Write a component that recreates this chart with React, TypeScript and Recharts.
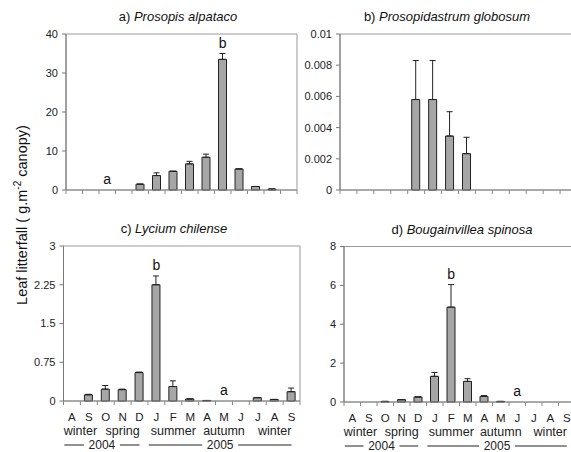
import { Bar, ComposedChart, ErrorBar, ReferenceArea, Scatter, XAxis, YAxis } from 'recharts'

const FONT = '"Liberation Sans", Arial, sans-serif'

const months = ['A', 'S', 'O', 'N', 'D', 'J', 'F', 'M', 'A', 'M', 'J', 'J', 'A', 'S']
const monthIds = ['Aug04', 'Sep04', 'Oct04', 'Nov04', 'Dec04', 'Jan05', 'Feb05', 'Mar05', 'Apr05', 'May05', 'Jun05', 'Jul05', 'Aug05', 'Sep05']

const seasons = [
  { name: 'winter', from: 0, to: 1 },
  { name: 'spring', from: 2, to: 4 },
  { name: 'summer', from: 5, to: 7 },
  { name: 'autumn', from: 8, to: 10 },
  { name: 'winter', from: 11, to: 13 }
]
const years = [
  { name: '2004', from: 0, to: 4 },
  { name: '2005', from: 5, to: 13 }
]

// a) Prosopis alpataco
const alpatacoMean = [0, 0, 0, 0, 1.5, 3.7, 4.8, 6.7, 8.4, 33.5, 5.4, 0.9, 0.25, 0]
const alpatacoErr = [0, 0, 0, 0, 0, 0.7, 0, 0.65, 0.8, 1.5, 0, 0, 0, 0]
const alpatacoSig = ['', '', 'a', '', '', '', '', '', '', 'b', '', '', '', '']
const alpatacoTicks = [0, 10, 20, 30, 40]

// b) Prosopidastrum globosum
const globosumMean = [0, 0, 0, 0, 0.0058, 0.0058, 0.00346, 0.00233, 0, 0, 0, 0, 0, 0]
const globosumErr = [0, 0, 0, 0, 0.0025, 0.0025, 0.00156, 0.00105, 0, 0, 0, 0, 0, 0]
const globosumSig = ['', '', '', '', '', '', '', '', '', '', '', '', '', '']
const globosumTicks = [0, 0.002, 0.004, 0.006, 0.008, 0.01]

// c) Lycium chilense
const chilenseMean = [0, 0.12, 0.23, 0.22, 0.55, 2.25, 0.28, 0.04, 0.01, 0, 0, 0.065, 0.03, 0.18]
const chilenseErr = [0, 0.01, 0.07, 0.01, 0.01, 0.17, 0.11, 0, 0, 0, 0, 0, 0, 0.07]
const chilenseSig = ['', '', '', '', '', 'b', '', '', '', 'a', '', '', '', '']
const chilenseTicks = [0, 0.75, 1.5, 2.25, 3]

// d) Bougainvillea spinosa
const spinosaMean = [0, 0, 0.03, 0.12, 0.26, 1.32, 4.88, 1.06, 0.29, 0.03, 0, 0, 0, 0]
const spinosaErr = [0, 0, 0, 0, 0, 0.2, 1.16, 0.14, 0.04, 0, 0, 0, 0, 0]
const spinosaSig = ['', '', '', '', '', '', 'b', '', '', '', 'a', '', '', '']
const spinosaTicks = [0, 2, 4, 6, 8]

function buildRows(mean: number[], err: number[], sig: string[]) {
  return months.map((m, i) => ({
    mid: monthIds[i],
    month: m,
    v: mean[i],
    e: [0, err[i]],
    sig: sig[i],
    sigY: sig[i] ? mean[i] + err[i] : null
  }))
}

const SigMark = (p: any) =>
  p.payload && p.payload.sig ? (
    <text x={p.cx} y={p.cy - 6} textAnchor="middle" fontSize={14} fill="#111" fontFamily={FONT}>
      {p.payload.sig}
    </text>
  ) : (
    <g />
  )

function MonthTick(props: any) {
  const { x, y, payload, band, labels } = props
  const i = monthIds.indexOf(payload.value)
  const out: any[] = [
    <line key="t" x1={x - band / 2} x2={x - band / 2} y1={y} y2={y + 4} stroke="#888" />
  ]
  if (i === months.length - 1) {
    out.push(<line key="t2" x1={x + band / 2} x2={x + band / 2} y1={y} y2={y + 4} stroke="#888" />)
  }
  if (labels) {
    out.push(
      <text key="m" x={x} y={y + 19.5} textAnchor="middle" fontSize={11.5} fill="#222" fontFamily={FONT}>
        {months[i]}
      </text>
    )
    const s = seasons.find((d) => d.from === i)
    if (s) {
      out.push(
        <text key="s" x={x + ((s.from + s.to) / 2 - i) * band} y={y + 34} textAnchor="middle" fontSize={12.5} fill="#222" fontFamily={FONT}>
          {s.name}
        </text>
      )
    }
    const yr = years.find((d) => d.from === i)
    if (yr) {
      const x0 = x - 0.45 * band
      const x1 = x + (yr.to - i) * band
      const cx = (x0 + x1) / 2
      out.push(
        <g key="y">
          <line x1={x0} x2={cx - 18} y1={y + 44} y2={y + 44} stroke="#222" />
          <line x1={cx + 18} x2={x1} y1={y + 44} y2={y + 44} stroke="#222" />
          <text x={cx} y={y + 48} textAnchor="middle" fontSize={12} fill="#222" fontFamily={FONT}>
            {yr.name}
          </text>
        </g>
      )
    }
  }
  return <g>{out}</g>
}

const YW = 40

function Panel(props: any) {
  const { left, top, width, height, pl, pt, pw, ph, rows, ticks, prefix, species, titleX, labels } = props
  const band = pw / months.length
  const max = ticks[ticks.length - 1]
  return (
    <div style={{ position: 'absolute', left, top, width, height }}>
      <div
        style={{
          position: 'absolute',
          left: titleX - 120,
          width: 240,
          top: pt - 25,
          lineHeight: '16px',
          textAlign: 'center',
          fontSize: 13,
          color: '#111',
          fontFamily: FONT
        }}
      >
        {prefix} <i>{species}</i>
      </div>
      <ComposedChart
        width={width}
        height={height}
        data={rows}
        margin={{ top: pt, left: pl - YW, right: width - pl - pw, bottom: 0 }}
      >
        <ReferenceArea y1={0} y2={max} fill="none" stroke="#999" />
        <XAxis
          dataKey="mid"
          interval={0}
          height={height - pt - ph}
          tickLine={false}
          tickSize={0}
          tickMargin={0}
          axisLine={{ stroke: '#888' }}
          tick={<MonthTick band={band} labels={labels} />}
        />
        <YAxis
          type="number"
          domain={[0, max]}
          ticks={ticks}
          width={YW}
          tickSize={4}
          tickMargin={4}
          axisLine={{ stroke: '#777' }}
          tickLine={{ stroke: '#777' }}
          tick={{ fontSize: 11, fill: '#222', fontFamily: FONT }}
        />
        <Bar dataKey="v" barSize={Math.round(band * 0.5)} fill="#a6a6a6" stroke="#222" strokeWidth={1} isAnimationActive={false}>
          <ErrorBar dataKey="e" width={3} stroke="#222" strokeWidth={1} direction="y" />
        </Bar>
        <Scatter dataKey="sigY" shape={SigMark} isAnimationActive={false} />
      </ComposedChart>
    </div>
  )
}

export default function App() {
  return (
    <div
      style={{
        position: 'absolute',
        left: 0,
        top: 0,
        width: 571,
        height: 452,
        overflow: 'hidden',
        background: '#fff',
        fontFamily: FONT
      }}
    >
      <Panel
        left={0} top={0} width={300} height={200}
        pl={66} pt={34} pw={231} ph={156}
        rows={buildRows(alpatacoMean, alpatacoErr, alpatacoSig)}
        ticks={alpatacoTicks}
        prefix="a)" species="Prosopis alpataco" titleX={178} labels={false}
      />
      <Panel
        left={280} top={0} width={300} height={200}
        pl={60} pt={34} pw={237} ph={156}
        rows={buildRows(globosumMean, globosumErr, globosumSig)}
        ticks={globosumTicks}
        prefix="b)" species="Prosopidastrum globosum" titleX={167} labels={false}
      />
      <Panel
        left={0} top={210} width={304} height={242}
        pl={63.5} pt={36} pw={236.5} ph={155}
        rows={buildRows(chilenseMean, chilenseErr, chilenseSig)}
        ticks={chilenseTicks}
        prefix="c)" species="Lycium chilense" titleX={174} labels={true}
      />
      <Panel
        left={280} top={210} width={300} height={242}
        pl={64} pt={36.5} pw={231} ph={155.5}
        rows={buildRows(spinosaMean, spinosaErr, spinosaSig)}
        ticks={spinosaTicks}
        prefix="d)" species="Bougainvillea spinosa" titleX={182} labels={true}
      />
      <svg width={40} height={452} style={{ position: 'absolute', left: 0, top: 0 }}>
        <text
          x={27}
          y={215}
          transform="rotate(-90 27 215)"
          textAnchor="middle"
          fontSize={14.5}
          fill="#111"
          fontFamily={FONT}
        >
          Leaf litterfall ( g.m
          <tspan dy={-6} fontSize={10}>-2</tspan>
          <tspan dy={6}> canopy)</tspan>
        </text>
      </svg>
    </div>
  )
}
